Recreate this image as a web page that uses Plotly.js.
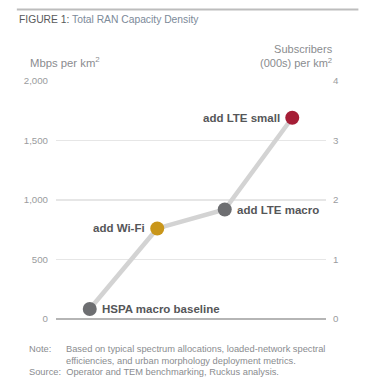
<!DOCTYPE html>
<html><head><meta charset="utf-8">
<script src="https://cdn.plot.ly/plotly-3.0.1.min.js"></script>
<style>html,body{margin:0;padding:0;background:#fff;}#chart{width:375px;height:389px;}</style>
</head><body><div id="chart"></div>
<script>
const steps = ["HSPA macro baseline", "add Wi-Fi", "add LTE macro", "add LTE small"];
const capacity = [84, 761, 920, 1691];
const markerColors = ["#6d6e71", "#c9961a", "#6d6e71", "#a51e36"];
const labelSide = ["right", "left", "right", "left"];
const leftTicks = [0, 500, 1000, 1500, 2000];
const rightTicks = [0, 1, 2, 3, 4];

const xs = steps.map((s, i) => i);
const traces = [
  {x: xs, y: capacity, type: "scatter", mode: "lines", line: {color: "#d3d3d3", width: 4.5}, hoverinfo: "skip", showlegend: false},
  {x: xs, y: capacity, type: "scatter", mode: "markers", marker: {color: markerColors, size: 14}, showlegend: false},
  {x: [0, 3], y: [0, 4], yaxis: "y2", type: "scatter", mode: "markers", marker: {opacity: 0}, showlegend: false, hoverinfo: "skip"}
];
const annotations = steps.map((s, i) => ({
  x: xs[i], y: capacity[i], xref: "x", yref: "y", text: "<b>" + s + "</b>", showarrow: false,
  xanchor: labelSide[i] === "right" ? "left" : "right", xshift: labelSide[i] === "right" ? 10 : -10,
  yanchor: "middle", font: {family: "Liberation Sans, Arial", size: 11.5, color: "#555658"}
}));
const lightFont = {family: "Liberation Sans, Arial", color: "#8a8c8f"};
annotations.push(
  {xref: "paper", yref: "paper", x: -0.105, y: 1.04, xanchor: "left", yanchor: "bottom", showarrow: false,
   text: "Mbps per km<sup>2</sup>", font: Object.assign({size: 11.3}, lightFont)},
  {xref: "paper", yref: "paper", x: 1.035, y: 1.04, xanchor: "right", yanchor: "bottom", showarrow: false, align: "right",
   text: "Subscribers<br>(000s) per km<sup>2</sup>", font: Object.assign({size: 11}, lightFont)},
  {xref: "paper", yref: "paper", x: -0.145, y: 1.258, xanchor: "left", yanchor: "middle", showarrow: false,
   text: "<span style='color:#58595b'>FIGURE 1:</span> Total RAN Capacity Density", font: {family: "Liberation Sans, Arial", size: 10.3, color: "#7c8a99"}},
  {xref: "paper", yref: "paper", x: -0.108, y: -0.095, xanchor: "left", yanchor: "top", showarrow: false, align: "left",
   text: "Note:", font: Object.assign({size: 9.3}, lightFont)},
  {xref: "paper", yref: "paper", x: 0.03, y: -0.095, xanchor: "left", yanchor: "top", showarrow: false, align: "left",
   text: "Based on typical spectrum allocations, loaded-network spectral<br>efficiencies, and urban morphology deployment metrics.", font: Object.assign({size: 9.3}, lightFont)},
  {xref: "paper", yref: "paper", x: -0.108, y: -0.193, xanchor: "left", yanchor: "top", showarrow: false, align: "left",
   text: "Source:&nbsp; Operator and TEM benchmarking, Ruckus analysis.", font: Object.assign({size: 9.3}, lightFont)}
);
const layout = {
  width: 375, height: 389,
  margin: {l: 56, r: 49, t: 80.5, b: 70},
  paper_bgcolor: "#fff", plot_bgcolor: "#fff",
  xaxis: {range: [-0.5, 3.5], showticklabels: false, showgrid: false, zeroline: false, showline: false, ticks: "", fixedrange: true},
  yaxis: {range: [0, 2000], tickvals: leftTicks, ticktext: leftTicks.map(v => v.toLocaleString("en-US")),
          showgrid: true, gridcolor: "#e6e6e6", gridwidth: 1.2, zeroline: true, zerolinecolor: "#b5b5b5", zerolinewidth: 1.5,
          showline: false, ticks: "", ticklabelstandoff: 7,
          tickfont: {family: "Liberation Sans, Arial", size: 9.7, color: "#9a9c9e"}},
  yaxis2: {range: [0, 4], overlaying: "y", side: "right", tickvals: rightTicks, showgrid: false, zeroline: false,
           showline: false, ticks: "", ticklabelstandoff: 6,
           tickfont: {family: "Liberation Sans, Arial", size: 9.7, color: "#9a9c9e"}},
  annotations: annotations,
  shapes: [{type: "line", xref: "paper", yref: "paper", x0: -0.145, x1: 1.12, y0: 1.3, y1: 1.3, line: {color: "#bdbdbd", width: 2}}],
  showlegend: false
};
Plotly.newPlot("chart", traces, layout, {displayModeBar: false, staticPlot: true});
</script></body></html>
